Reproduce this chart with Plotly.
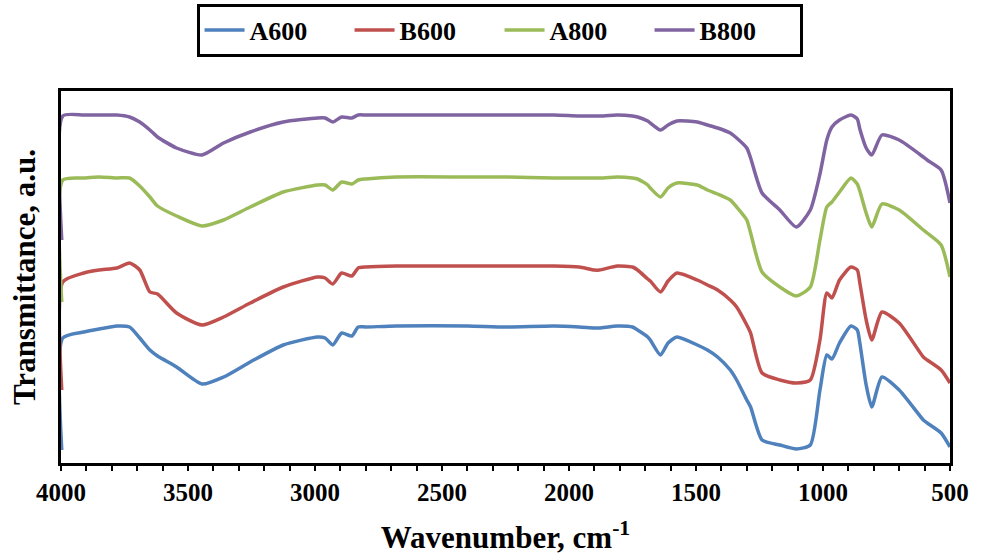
import plotly.graph_objects as go

# Wavenumber grid (cm-1)
wavenumber = [3997, 3993, 3910, 3850, 3780, 3730, 3690, 3650, 3620, 3545, 3445, 3360, 3255, 3125,
              2990, 2960, 2930, 2895, 2855, 2830, 2800, 2680, 2400, 2250, 2060, 1960, 1900, 1880,
              1810, 1750, 1730, 1690, 1680, 1640, 1610, 1575, 1495, 1455, 1415, 1365, 1340, 1300,
              1285, 1240, 1170, 1105, 1050, 1012, 985, 965, 935, 890, 865, 855, 830, 808, 768,
              700, 605, 590, 535, 500]

# Transmittance (a.u., stacked offsets)
A600 = [13, 125, 131, 134, 137, 136, 125, 113, 107, 96, 79, 86, 101, 118,
        126, 125, 118, 130, 127, 136, 136, 137, 137, 136, 137, 136, 135, 135,
        137, 136, 133, 126, 123, 108, 120, 126, 118, 113, 106, 93, 83, 63,
        56, 23, 18, 14, 18, 73, 108, 104, 120, 137, 133, 120, 78, 56, 86,
        73, 43, 40, 30, 16]
B600 = [73, 181, 190, 193, 195, 200, 193, 171, 169, 150, 138, 146, 160, 176,
        186, 185, 179, 190, 187, 195, 196, 197, 197, 197, 197, 196, 193, 193,
        197, 196, 193, 184, 182, 171, 182, 190, 183, 178, 173, 163, 156, 138,
        130, 90, 83, 80, 83, 123, 170, 165, 183, 196, 193, 180, 143, 123, 151,
        140, 106, 103, 93, 80]
A800 = [161, 283, 285, 286, 285, 285, 277, 266, 257, 247, 237, 243, 256, 271,
        278, 278, 273, 281, 279, 283, 284, 286, 286, 286, 285, 285, 285, 285,
        286, 285, 284, 278, 275, 266, 275, 280, 278, 273, 269, 263, 256, 243,
        230, 191, 176, 167, 176, 223, 256, 261, 271, 285, 279, 272, 250, 236, 259,
        253, 233, 230, 218, 186]
B800 = [223, 347, 348, 348, 348, 346, 341, 333, 326, 315, 308, 320, 331, 341,
        345, 345, 341, 346, 345, 348, 348, 348, 348, 348, 348, 347, 347, 347,
        348, 347, 346, 342, 340, 333, 338, 342, 341, 338, 335, 330, 325, 315,
        305, 270, 253, 236, 253, 289, 323, 336, 343, 348, 344, 334, 315, 308, 328,
        323, 306, 303, 293, 260]

series_names = ["A600", "B600", "A800", "B800"]
series_values = [A600, B600, A800, B800]
colors = ["#4F81BD", "#C0504D", "#9BBB59", "#8064A2"]

x_tickvals = [4000, 3500, 3000, 2500, 2000, 1500, 1000, 500]

FONT = "Liberation Serif"

fig = go.Figure()
for name, vals, col in zip(series_names, series_values, colors):
    fig.add_trace(go.Scatter(
        x=wavenumber, y=vals, mode="lines", name=name,
        line=dict(color=col, width=3.5, shape="spline", smoothing=0.6),
    ))

fig.update_layout(
    width=984, height=555,
    margin=dict(l=61, r=34, t=91, b=92, autoexpand=False),
    paper_bgcolor="white", plot_bgcolor="white",
    font=dict(family=FONT, color="black"),
    legend=dict(
        orientation="h", x=0.4933, xanchor="center", y=1.235, yanchor="top",
        bordercolor="black", borderwidth=3, bgcolor="white",
        font=dict(family=FONT, size=26, weight="bold", color="black"),
        entrywidth=95, entrywidthmode="pixels",
        itemwidth=40,
    ),
    xaxis=dict(
        range=[4000, 500], tickvals=x_tickvals, automargin=False,
        ticks="outside", ticklen=5, tickwidth=1.5, tickcolor="black",
        minor=dict(dtick=100, ticks="outside", ticklen=5, tickwidth=1.5, tickcolor="black"),
        showline=True, linewidth=2.5, linecolor="black", mirror=True,
        showgrid=False, zeroline=False,
        tickfont=dict(family=FONT, size=25, weight="bold", color="black"),
        title=dict(text="Wavenumber, cm<sup>-1</sup>", standoff=26,
                   font=dict(family=FONT, size=31, weight="bold", color="black")),
    ),
    yaxis=dict(
        range=[0, 372], showticklabels=False, ticks="", automargin=False,
        showline=True, linewidth=2.5, linecolor="black", mirror=True,
        showgrid=False, zeroline=False,
        title=dict(text="Transmittance, a.u.", standoff=14,
                   font=dict(family=FONT, size=31, weight="bold", color="black")),
    ),
)

fig.write_html("out.html")
